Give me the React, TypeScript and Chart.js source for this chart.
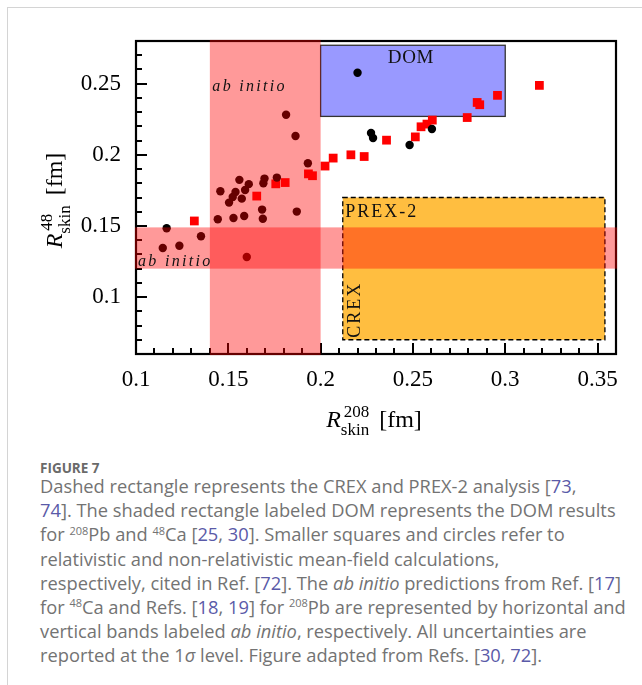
import React, { useEffect, useRef } from "react";
import { Chart, registerables } from "chart.js";

Chart.register(...registerables);

// ---------- axes ----------
const X_RANGE = [0.1, 0.36];
const Y_RANGE = [0.06, 0.28];
const X_TICKS = [0.1, 0.15, 0.2, 0.25, 0.3, 0.35];
const X_TICK_LABELS = ["0.1", "0.15", "0.2", "0.25", "0.3", "0.35"];
const Y_TICKS = [0.1, 0.15, 0.2, 0.25];
const Y_TICK_LABELS = ["0.1", "0.15", "0.2", "0.25"];
const MINOR_STEP = 0.01;

// ---------- data: non-relativistic mean-field (circles) ----------
const NR_X = [
  0.1145, 0.1166, 0.1235, 0.1352, 0.1443, 0.1457, 0.1504, 0.1524, 0.1528, 0.1539,
  0.156, 0.1573, 0.1586, 0.1591, 0.16, 0.1611, 0.1683, 0.1687, 0.169, 0.1696,
  0.1763, 0.1813, 0.1864, 0.1871, 0.1931, 0.22, 0.2273, 0.2284, 0.2482, 0.2603,
];
const NR_Y = [
  0.1345, 0.1484, 0.1361, 0.1428, 0.1547, 0.1744, 0.1664, 0.1704, 0.1556, 0.1739,
  0.1824, 0.1692, 0.157, 0.1753, 0.1282, 0.1794, 0.1615, 0.1551, 0.18, 0.1833,
  0.184, 0.2282, 0.2132, 0.1601, 0.1941, 0.2577, 0.2153, 0.2118, 0.2069, 0.2181,
];

// ---------- data: relativistic mean-field (squares) ----------
const REL_X = [
  0.1316, 0.1654, 0.1757, 0.1808, 0.1934, 0.1956, 0.2024, 0.2068, 0.2164, 0.2236,
  0.2357, 0.2513, 0.2544, 0.2576, 0.2605, 0.2794, 0.2848, 0.2862, 0.2958, 0.3185,
];
const REL_Y = [
  0.1535, 0.171, 0.1796, 0.1805, 0.1866, 0.1853, 0.1921, 0.1977, 0.2, 0.1988,
  0.2103, 0.2126, 0.2197, 0.2216, 0.2244, 0.2262, 0.2368, 0.2352, 0.2418, 0.2488,
];

// ---------- bands / boxes ----------
const AB_INITIO_PB = [0.14, 0.2]; // vertical band (x)
const AB_INITIO_CA = [0.12, 0.149]; // horizontal band (y)
const DOM_X = [0.2, 0.3];
const DOM_Y = [0.227, 0.277];
const EXP_X = [0.212, 0.354];
const EXP_Y = [0.07, 0.17];

const SERIF = '"Liberation Serif", "Times New Roman", serif';

function skinLabel(ctx: CanvasRenderingContext2D, sup: string, cx: number, base: number, draw: boolean) {
  ctx.font = `italic 24px ${SERIF}`;
  const wR = ctx.measureText("R").width;
  ctx.font = `17px ${SERIF}`;
  const wSup = ctx.measureText(sup).width;
  const wSub = ctx.measureText("skin").width;
  ctx.font = `24px ${SERIF}`;
  const wFm = ctx.measureText("[fm]").width;
  const gap = 9;
  const total = wR + 2 + Math.max(wSup + 1, wSub - 1) + gap + wFm;
  let x = cx - total / 2;
  if (!draw) return total;
  ctx.textAlign = "left";
  ctx.textBaseline = "alphabetic";
  ctx.font = `italic 24px ${SERIF}`;
  ctx.fillText("R", x, base);
  x += wR + 2;
  ctx.font = `17px ${SERIF}`;
  ctx.fillText(sup, x + 1, base - 10);
  ctx.fillText("skin", x - 2, base + 8);
  x += Math.max(wSup + 1, wSub - 1) + gap;
  ctx.font = `24px ${SERIF}`;
  ctx.fillText("[fm]", x, base);
  return total;
}

const backPlugin = {
  id: "back",
  beforeDatasetsDraw(chart: any) {
    const { ctx, chartArea: a, scales } = chart;
    const x = scales.x;
    const y = scales.y;
    ctx.save();
    // DOM box
    const dx0 = x.getPixelForValue(DOM_X[0]);
    const dx1 = x.getPixelForValue(DOM_X[1]);
    const dy0 = y.getPixelForValue(DOM_Y[0]);
    const dy1 = y.getPixelForValue(DOM_Y[1]);
    ctx.fillStyle = "rgba(0,0,255,0.4)";
    ctx.fillRect(dx0, dy1, dx1 - dx0, dy0 - dy1);
    ctx.strokeStyle = "#333";
    ctx.lineWidth = 1.3;
    ctx.strokeRect(dx0, dy1, dx1 - dx0, dy0 - dy1);
    // CREX / PREX-2 box
    const ex0 = x.getPixelForValue(EXP_X[0]);
    const ex1 = x.getPixelForValue(EXP_X[1]);
    const ey0 = y.getPixelForValue(EXP_Y[0]);
    const ey1 = y.getPixelForValue(EXP_Y[1]);
    ctx.fillStyle = "#ffbe40";
    ctx.fillRect(ex0, ey1, ex1 - ex0, ey0 - ey1);
    ctx.setLineDash([5, 3]);
    ctx.strokeStyle = "#000";
    ctx.lineWidth = 1.3;
    ctx.strokeRect(ex0, ey1, ex1 - ex0, ey0 - ey1);
    ctx.setLineDash([]);
    // frame
    ctx.lineWidth = 2.2;
    ctx.strokeStyle = "#000";
    ctx.strokeRect(a.left, a.top, a.right - a.left, a.bottom - a.top);
    // inward ticks
    ctx.lineWidth = 2;
    const nx = Math.round((X_RANGE[1] - X_RANGE[0]) / MINOR_STEP);
    for (let i = 0; i <= nx; i++) {
      const v = X_RANGE[0] + i * MINOR_STEP;
      const major = X_TICKS.some((t) => Math.abs(t - v) < 1e-6);
      const px = Math.round(x.getPixelForValue(v));
      ctx.beginPath();
      ctx.moveTo(px, a.bottom);
      ctx.lineTo(px, a.bottom - (major ? 11 : 6));
      ctx.stroke();
    }
    const ny = Math.round((Y_RANGE[1] - Y_RANGE[0]) / MINOR_STEP);
    for (let i = 0; i <= ny; i++) {
      const v = Y_RANGE[0] + i * MINOR_STEP;
      const major = Y_TICKS.some((t) => Math.abs(t - v) < 1e-6);
      const py = Math.round(y.getPixelForValue(v));
      ctx.beginPath();
      ctx.moveTo(a.left, py);
      ctx.lineTo(a.left + (major ? 11 : 6), py);
      ctx.stroke();
    }
    // axis titles
    ctx.fillStyle = "#000";
    skinLabel(ctx, "208", (a.left + a.right) / 2 - 2, 427, true);
    ctx.save();
    ctx.translate(62, (a.top + a.bottom) / 2 + 3);
    ctx.rotate(-Math.PI / 2);
    skinLabel(ctx, "48", 0, 0, true);
    ctx.restore();
    ctx.restore();
  },
  afterDatasetsDraw(chart: any) {
    const { ctx, chartArea: a, scales } = chart;
    const x = scales.x;
    const y = scales.y;
    ctx.save();
    ctx.fillStyle = "rgba(255,0,0,0.4)";
    const vx0 = x.getPixelForValue(AB_INITIO_PB[0]);
    const vx1 = x.getPixelForValue(AB_INITIO_PB[1]);
    ctx.fillRect(vx0, a.top - 1.1, vx1 - vx0, a.bottom - a.top + 2.2);
    const hy0 = y.getPixelForValue(AB_INITIO_CA[0]);
    const hy1 = y.getPixelForValue(AB_INITIO_CA[1]);
    ctx.fillRect(a.left - 1.1, hy1, a.right - a.left + 2.2, hy0 - hy1);

    ctx.fillStyle = "#111";
    ctx.textBaseline = "alphabetic";
    ctx.textAlign = "left";
    // ab initio labels
    ctx.font = `italic 16px ${SERIF}`;
    (ctx as any).letterSpacing = "2.3px";
    ctx.fillText("ab initio", vx0 + 2.5, a.top + 50);
    ctx.fillText("ab initio", a.left + 2, hy0 - 3);
    // DOM
    const dx0 = x.getPixelForValue(DOM_X[0]);
    const dx1 = x.getPixelForValue(DOM_X[1]);
    const dy1 = y.getPixelForValue(DOM_Y[1]);
    ctx.font = `19px ${SERIF}`;
    (ctx as any).letterSpacing = "0.6px";
    ctx.textAlign = "center";
    ctx.fillText("DOM", (dx0 + dx1) / 2 - 2, dy1 + 18);
    // PREX-2 / CREX
    const ex0 = x.getPixelForValue(EXP_X[0]);
    const ey0 = y.getPixelForValue(EXP_Y[0]);
    const ey1 = y.getPixelForValue(EXP_Y[1]);
    ctx.textAlign = "left";
    ctx.font = `18px ${SERIF}`;
    (ctx as any).letterSpacing = "2px";
    ctx.fillText("PREX-2", ex0 + 2.5, ey1 + 19);
    ctx.save();
    ctx.translate(ex0 + 17, ey0 - 2);
    ctx.rotate(-Math.PI / 2);
    ctx.fillText("CREX", 0, 0);
    ctx.restore();
    (ctx as any).letterSpacing = "0px";
    ctx.restore();
  },
};

function ChartCanvas() {
  const ref = useRef<HTMLCanvasElement | null>(null);
  useEffect(() => {
    if (!ref.current) return;
    const tickFont = { family: SERIF, size: 23 };
    const chart = new Chart(ref.current, {
      type: "scatter",
      data: {
        datasets: [
          {
            label: "non-relativistic",
            data: NR_X.map((v, i) => ({ x: v, y: NR_Y[i] })),
            pointStyle: "circle",
            pointRadius: 4.2,
            backgroundColor: "#000",
            borderWidth: 0,
          },
          {
            label: "relativistic",
            data: REL_X.map((v, i) => ({ x: v, y: REL_Y[i] })),
            pointStyle: "rect",
            pointRadius: 6.2,
            backgroundColor: "#ff0000",
            borderWidth: 0,
          },
        ],
      },
      options: {
        animation: false,
        responsive: false,
        events: [],
        layout: { padding: { left: 0, top: 41, right: 26, bottom: 0 } },
        plugins: { legend: { display: false }, tooltip: { enabled: false } },
        scales: {
          x: {
            type: "linear",
            min: X_RANGE[0],
            max: X_RANGE[1],
            afterBuildTicks: (s: any) => {
              s.ticks = X_TICKS.map((v) => ({ value: v }));
            },
            afterFit: (s: any) => {
              s.height = 96;
            },
            grid: { display: false, drawTicks: false },
            border: { display: false },
            ticks: {
              font: tickFont,
              color: "#000",
              padding: 12,
              autoSkip: false,
              maxRotation: 0,
              callback: (_v: any, i: number) => X_TICK_LABELS[i],
            },
          },
          y: {
            type: "linear",
            min: Y_RANGE[0],
            max: Y_RANGE[1],
            afterBuildTicks: (s: any) => {
              s.ticks = Y_TICKS.map((v) => ({ value: v }));
            },
            afterFit: (s: any) => {
              s.width = 136;
            },
            grid: { display: false, drawTicks: false },
            border: { display: false },
            ticks: {
              font: tickFont,
              color: "#000",
              padding: 15,
              autoSkip: false,
              callback: (_v: any, i: number) => Y_TICK_LABELS[i],
            },
          },
        },
      } as any,
      plugins: [backPlugin],
    });
    return () => chart.destroy();
  }, []);
  return (
    <canvas
      ref={ref}
      width={642}
      height={450}
      style={{ position: "absolute", left: 0, top: 0, width: 642, height: 450 }}
    />
  );
}

const LINK = "#5a5aa8";
const L = (t: string) => <span style={{ color: LINK }}>{t}</span>;
const Sup = (t: string) => (
  <sup style={{ fontSize: "0.6em", verticalAlign: "baseline", position: "relative", top: "-0.6em" }}>{t}</sup>
);

export default function App() {
  const lineStyle: React.CSSProperties = { whiteSpace: "nowrap", height: 24.2, lineHeight: "24.2px" };
  return (
    <div style={{ position: "absolute", left: 0, top: 0, width: 642, height: 685, overflow: "hidden", background: "#fff" }}>
      <div
        style={{
          position: "absolute",
          left: 7,
          top: 7,
          width: 635,
          height: 678,
          borderLeft: "1px solid #d4d4d4",
          borderTop: "1px solid #d4d4d4",
          boxSizing: "border-box",
        }}
      />
      <ChartCanvas />
      <div
        style={{
          position: "absolute",
          left: 40,
          top: 460,
          fontFamily: '"Open Sans", sans-serif',
          fontWeight: 700,
          fontSize: 13.5,
          lineHeight: "16px",
          color: "#6a6a6a",
          whiteSpace: "nowrap",
        }}
      >
        FIGURE 7
      </div>
      <div
        style={{
          position: "absolute",
          left: 40,
          top: 474,
          fontFamily: '"Open Sans", sans-serif',
          fontSize: 18.3,
          color: "#737373",
        }}
      >
        <div style={lineStyle}>
          Dashed rectangle represents the CREX and PREX-2 analysis [{L("73")},
        </div>
        <div style={lineStyle}>
          {L("74")}]. The shaded rectangle labeled DOM represents the DOM results
        </div>
        <div style={lineStyle}>
          for {Sup("208")}Pb and {Sup("48")}Ca [{L("25")}, {L("30")}]. Smaller squares and circles refer to
        </div>
        <div style={lineStyle}>relativistic and non-relativistic mean-field calculations,</div>
        <div style={lineStyle}>
          respectively, cited in Ref. [{L("72")}]. The <i>ab initio</i> predictions from Ref. [{L("17")}]
        </div>
        <div style={lineStyle}>
          for {Sup("48")}Ca and Refs. [{L("18")}, {L("19")}] for {Sup("208")}Pb are represented by horizontal and
        </div>
        <div style={lineStyle}>
          vertical bands labeled <i>ab initio</i>, respectively. All uncertainties are
        </div>
        <div style={lineStyle}>
          reported at the 1<i>σ</i> level. Figure adapted from Refs. [{L("30")}, {L("72")}].
        </div>
      </div>
    </div>
  );
}
